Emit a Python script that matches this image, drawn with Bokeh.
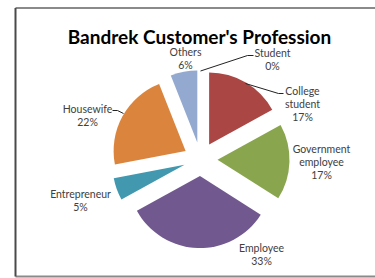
import numpy as np
from bokeh.plotting import figure
from bokeh.models import Range1d
from bokeh.core.properties import value
from bokeh.embed import file_html
from bokeh.resources import INLINE

# ---- data ----
categories = ["Student", "College student", "Government employee", "Employee",
              "Entrepreneur", "Housewife", "Others"]
percent = [0, 17, 17, 33, 5, 22, 6]
colors = ["#4572A7", "#AA4643", "#89A54E", "#71588F", "#4198AF", "#DB843D", "#93A9CF"]
label_lines = [["Student", "0%"], ["College", "student", "17%"], ["Government", "employee", "17%"],
               ["Employee", "33%"], ["Entrepreneur", "5%"], ["Housewife", "22%"], ["Others", "6%"]]
title = "Bandrek Customer's Profession"

# ---- layout (page pixels -> data) ----
W, H = 375, 278
def X(px): return px
def Y(py): return H - py

p = figure(width=W, height=H, output_backend="svg", toolbar_location=None,
           x_range=Range1d(0, W), y_range=Range1d(0, H), min_border=0)
p.axis.visible = False
p.grid.visible = False
p.outline_line_color = None
p.background_fill_color = "white"
p.border_fill_color = "white"

# frame
p.segment(x0=[X(15), X(15)], y0=[Y(7.5), Y(276)],
          x1=[X(375), X(375)], y1=[Y(7.5), Y(276)],
          line_color="#8a8a8a", line_width=2)
p.segment(x0=[X(15)], y0=[Y(7.5)], x1=[X(15)], y1=[Y(276)],
          line_color="#4a4a4a", line_width=2)

# pie
cx, cy, r, d = X(200), Y(158.6), 72, 17
frac = np.array(percent, dtype=float) / sum(percent)
cum = np.concatenate([[0], np.cumsum(frac)])
start = np.pi / 2 - cum[:-1] * 2 * np.pi
end = np.pi / 2 - cum[1:] * 2 * np.pi
mid = (start + end) / 2
xs = cx + d * np.cos(mid)
ys = cy + d * np.sin(mid)
keep = frac > 0
p.wedge(x=xs[keep], y=ys[keep], radius=r, start_angle=start[keep], end_angle=end[keep],
        direction="clock", fill_color=np.array(colors)[keep].tolist(), line_color=None)

# leader lines (page coordinates)
leaders = [
    [(200, 70.5), (247, 55), (253, 55)],
    [(245, 83), (278, 93), (283, 93)],
    [(112, 110), (117, 110), (123, 113)],
]
p.multi_line(xs=[[X(a) for a, b in L] for L in leaders],
             ys=[[Y(b) for a, b in L] for L in leaders],
             line_color="#222222", line_width=1)

# labels: center x, first line y (page), line step
label_pos = [(272, 52), (302, 90), (321, 148), (261, 247), (80, 193), (87, 108), (185, 51)]
step = 13
tx, ty, tt = [], [], []
for (lx, ly), lines in zip(label_pos, label_lines):
    for i, s in enumerate(lines):
        tx.append(X(lx)); ty.append(Y(ly + i * step)); tt.append(s)
p.text(x=tx, y=ty, text=tt, text_align="center", text_baseline="middle",
       text_font=value("Lato"), text_font_size="10.5px", text_color="#404040")

# title
p.text(x=[X(199)], y=[Y(36)], text=[title], text_align="center", text_baseline="alphabetic",
       text_font=value("Lato"), text_font_size="19px", text_font_style="bold", text_color="#000000")

open("out.html", "w").write(file_html(p, INLINE))
